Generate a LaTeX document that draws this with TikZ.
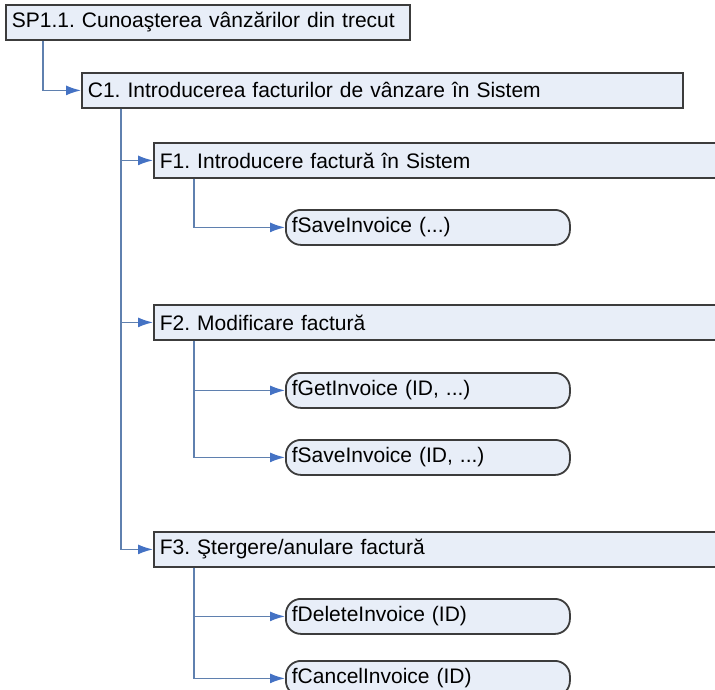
\documentclass[tikz,border=0pt]{standalone}
\usepackage{fontspec}
\setmainfont{Liberation Sans}
\usetikzlibrary{arrows.meta}
\frenchspacing

\definecolor{boxfill}{RGB}{232,238,248}
\definecolor{boxline}{RGB}{60,60,60}
\definecolor{linkblue}{RGB}{95,128,175}
\definecolor{tipblue}{RGB}{68,114,196}

\begin{document}
\begin{tikzpicture}[x=1pt,y=-1pt,
	level/.style={draw=boxline,line width=1.8pt,fill=boxfill,anchor=north west,minimum height=35pt,inner xsep=6pt,align=left,font=\fontsize{21}{25}\selectfont},
	call/.style={level,rounded corners=15pt,text width=272pt},
	link/.style={draw=linkblue,line width=1.5pt,-{Latex[length=15pt,width=10pt,color=tipblue]}}]

	\clip (0,0) rectangle (715,689);
	\fill[white] (0,0) rectangle (715,689);

	\node[level,text width=392pt] (sp) at (5,4) {SP1.1. Cunoaşterea vânzărilor din trecut};
	\node[level,text width=589pt] (c1) at (81,72) {C1. Introducerea facturilor de vânzare în Sistem};
	\node[level,text width=600pt] (f1) at (153,142) {F1. Introducere factură în Sistem};
	\node[call] (s1) at (285,209) {fSaveInvoice (...)};
	\node[level,text width=600pt] (f2) at (153,304) {F2. Modificare factură};
	\node[call] (g2) at (285,372) {fGetInvoice (ID, ...)};
	\node[call] (s2) at (285,439) {fSaveInvoice (ID, ...)};
	\node[level,text width=600pt] (f3) at (153,531) {F3. Ştergere/anulare factură};
	\node[call] (d3) at (285,598) {fDeleteInvoice (ID)};
	\node[call] (k3) at (285,660) {fCancelInvoice (ID)};

	\draw[link] ([xshift=38pt]sp.south west) |- (c1.west);
	\foreach \f in {f1,f2,f3}
		\draw[link] ([xshift=40pt]c1.south west) |- (\f.west);
	\foreach \f/\c in {f1/s1,f2/g2,f2/s2,f3/d3,f3/k3}
		\draw[link] ([xshift=41pt]\f.south west) |- (\c.west);

\end{tikzpicture}
\end{document}
